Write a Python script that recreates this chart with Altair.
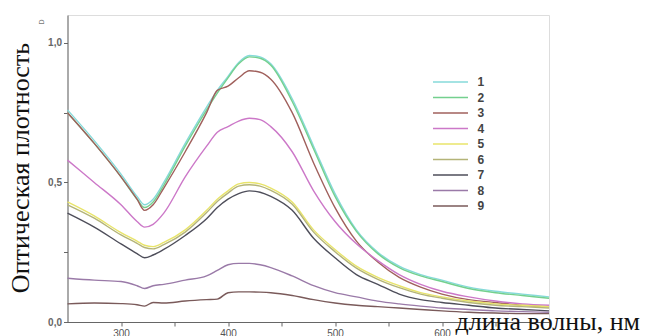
import altair as alt
import pandas as pd

wavelength = [250, 275, 300, 315, 322, 330, 340, 360, 380, 390, 400, 410, 420, 430,
              440, 460, 480, 500, 520, 540, 560, 580, 600, 625, 650, 675, 700]

s1 = [0.76, 0.65, 0.53, 0.45, 0.42, 0.44, 0.50, 0.64, 0.77, 0.83, 0.88, 0.93, 0.955, 0.95,
      0.925, 0.80, 0.63, 0.46, 0.33, 0.25, 0.20, 0.17, 0.15, 0.125, 0.11, 0.10, 0.09]
s2 = [0.75, 0.64, 0.52, 0.44, 0.41, 0.43, 0.49, 0.63, 0.76, 0.82, 0.875, 0.925, 0.95, 0.945,
      0.92, 0.79, 0.62, 0.45, 0.325, 0.245, 0.195, 0.165, 0.145, 0.12, 0.105, 0.095, 0.085]
s3 = [0.75, 0.64, 0.52, 0.44, 0.40, 0.42, 0.48, 0.61, 0.75, 0.83, 0.845, 0.875, 0.90, 0.895,
      0.87, 0.75, 0.57, 0.41, 0.29, 0.215, 0.16, 0.125, 0.10, 0.08, 0.07, 0.06, 0.055]
s4 = [0.58, 0.50, 0.42, 0.36, 0.34, 0.35, 0.39, 0.52, 0.63, 0.68, 0.70, 0.72, 0.73, 0.725,
      0.70, 0.61, 0.47, 0.36, 0.28, 0.22, 0.17, 0.135, 0.11, 0.09, 0.075, 0.065, 0.06]
s5 = [0.43, 0.38, 0.32, 0.29, 0.275, 0.27, 0.285, 0.33, 0.40, 0.44, 0.47, 0.495, 0.50, 0.495,
      0.48, 0.43, 0.33, 0.26, 0.20, 0.16, 0.13, 0.105, 0.09, 0.075, 0.065, 0.06, 0.055]
s6 = [0.42, 0.372, 0.312, 0.282, 0.267, 0.262, 0.277, 0.322, 0.392, 0.432, 0.462, 0.487, 0.492, 0.487,
      0.472, 0.422, 0.322, 0.252, 0.193, 0.153, 0.123, 0.1, 0.085, 0.07, 0.06, 0.055, 0.05]
s7 = [0.39, 0.34, 0.28, 0.245, 0.23, 0.24, 0.26, 0.31, 0.37, 0.41, 0.44, 0.46, 0.47, 0.465,
      0.45, 0.40, 0.30, 0.23, 0.17, 0.135, 0.10, 0.08, 0.07, 0.06, 0.05, 0.045, 0.04]
s8 = [0.157, 0.15, 0.145, 0.13, 0.12, 0.13, 0.135, 0.15, 0.165, 0.185, 0.205, 0.21, 0.21, 0.205,
      0.195, 0.165, 0.13, 0.105, 0.09, 0.075, 0.065, 0.057, 0.05, 0.045, 0.04, 0.037, 0.035]
s9 = [0.065, 0.068, 0.066, 0.062, 0.057, 0.07, 0.068, 0.075, 0.08, 0.082, 0.105, 0.108, 0.108, 0.107,
      0.105, 0.095, 0.08, 0.068, 0.06, 0.055, 0.05, 0.045, 0.04, 0.035, 0.032, 0.03, 0.03]

series_names = ["1", "2", "3", "4", "5", "6", "7", "8", "9"]
series_values = [s1, s2, s3, s4, s5, s6, s7, s8, s9]
series_colors = ["#86dada", "#74d08e", "#a0605c", "#cc78c8", "#e8e46a",
                 "#b4b478", "#4e4e5a", "#9a7aa8", "#7a5a5a"]

rows = []
for name, vals in zip(series_names, series_values):
    for w, v in zip(wavelength, vals):
        rows.append({"wl": w, "D": v, "series": name, "order": int(name)})
df = pd.DataFrame(rows)

x_ticks = [300, 350, 400, 450, 500, 550, 600, 650, 700]
y_ticks = [0.0, 0.25, 0.5, 0.75, 1.0]

lines = alt.Chart(df).mark_line(strokeWidth=1.4, interpolate="monotone").encode(
    x=alt.X("wl:Q", scale=alt.Scale(domain=[250, 700], nice=False, zero=False),
            axis=alt.Axis(values=x_ticks, title=None, grid=False,
                          labelExpr="datum.value % 100 == 0 && datum.value < 700 ? datum.value : ''",
                          labelFont="Liberation Sans", labelFontSize=10, labelColor="#555",
                          labelPadding=2, tickSize=4, tickColor="#666", domainColor="#666")),
    y=alt.Y("D:Q", scale=alt.Scale(domain=[0, 1.1], nice=False),
            axis=alt.Axis(values=y_ticks, title=None, grid=False,
                          labelExpr="datum.value == 0.25 || datum.value == 0.75 ? '' : replace(format(datum.value, '.1f'), '.', ',')",
                          labelFont="Liberation Sans", labelFontSize=10, labelFontWeight="bold",
                          labelColor="#666", labelPadding=2, tickSize=4,
                          tickColor="#666", domainColor="#666")),
    color=alt.Color("series:N",
                    scale=alt.Scale(domain=series_names, range=series_colors),
                    legend=alt.Legend(orient="none", legendX=377, legendY=61, title=None,
                                      symbolType="M-3.5,0L3.5,0", symbolSize=100,
                                      symbolStrokeWidth=1.5, labelOffset=21,
                                      labelFont="Liberation Sans", labelFontSize=12,
                                      labelFontWeight="bold", labelColor="#444",
                                      rowPadding=3.5, padding=0)),
    order="order:Q",
    detail="series:N",
)

ytitle = alt.Chart(pd.DataFrame({"t": ["Оптическая плотность"]})).mark_text(
    font="Liberation Serif", fontSize=26, angle=270, align="center", baseline="middle",
    color="#111").encode(text="t:N", x=alt.value(-47), y=alt.value(153))

dlabel = alt.Chart(pd.DataFrame({"t": ["D"]})).mark_text(
    font="Liberation Sans", fontSize=7, angle=270, align="center", baseline="middle",
    color="#777").encode(text="t:N", x=alt.value(-26), y=alt.value(7))

xtitle = alt.Chart(pd.DataFrame({"t": ["длина волны, нм"]})).mark_text(
    font="Liberation Serif", fontSize=26, align="left", baseline="alphabetic",
    color="#111").encode(text="t:N", x=alt.value(388), y=alt.value(315))

chart = alt.layer(lines, ytitle, dlabel, xtitle).properties(
    width=481.5, height=307,
    autosize=alt.AutoSizeParams(type="none"),
    padding={"left": 59.5, "top": 7, "right": 96, "bottom": 20},
).configure_view(stroke=None).configure(background="white")

chart.save("out.html", embed_options={"renderer": "svg", "actions": False})
